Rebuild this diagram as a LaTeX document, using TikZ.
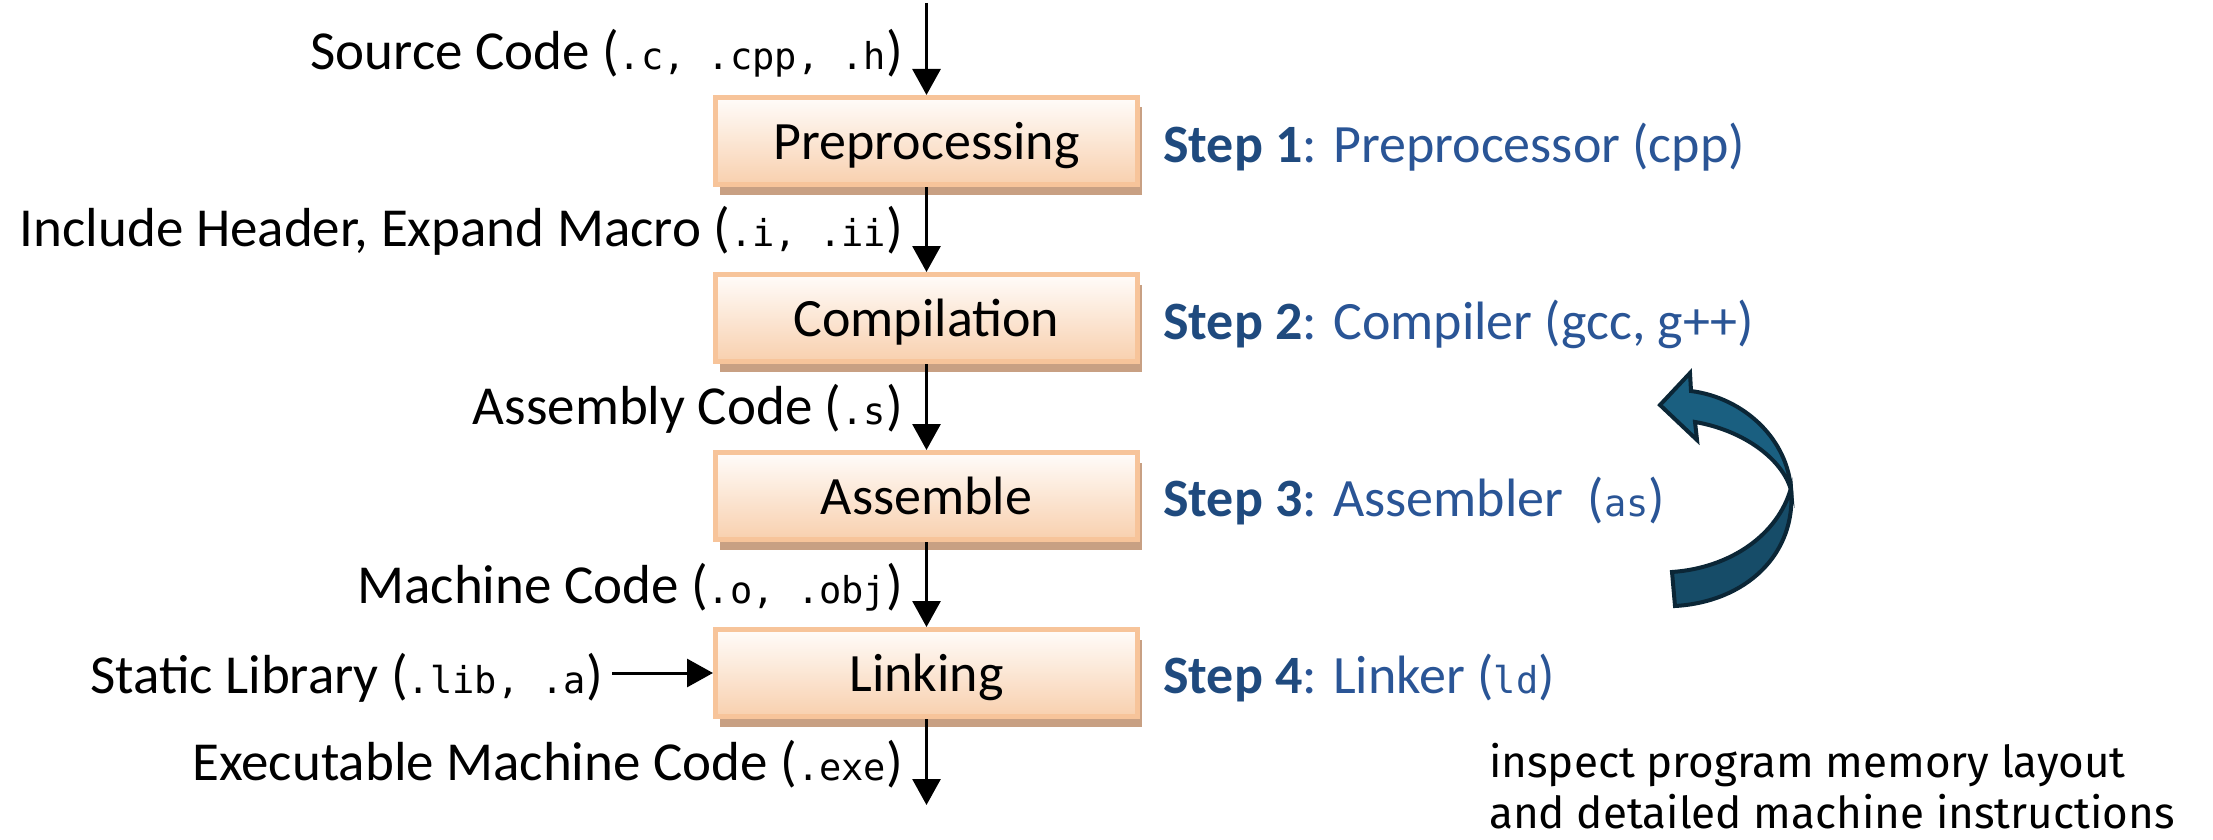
\documentclass[tikz,border=0pt]{standalone}
\usepackage{fontspec}
\setmainfont{Carlito}
\newfontfamily\monof{DejaVu Sans Mono}
\newfontfamily\firaf{Fira Sans}
\usetikzlibrary{arrows.meta,shadows}
\definecolor{boxborder}{HTML}{F7C49A}
\definecolor{boxtop}{HTML}{FFFCFA}
\definecolor{boxbot}{HTML}{F8D0AE}
\definecolor{shadowc}{HTML}{C8A083}
\definecolor{stepbold}{HTML}{1F4A7E}
\definecolor{steptext}{HTML}{2A5596}
\definecolor{cupper}{HTML}{1A5F80}
\definecolor{clower}{HTML}{164C68}
\definecolor{coutline}{HTML}{0B2636}
\newcommand\mc[1]{{\monof\fontsize{37}{40}\selectfont #1}}
\newcommand\stp[1]{\textcolor{stepbold}{\textbf{#1}}}
\begin{document}
\begin{tikzpicture}[x=1pt,y=-1pt,
  lab/.style={font=\fontsize{55}{60}\selectfont, inner sep=0pt, anchor=base east},
  stepl/.style={font=\fontsize{54}{60}\selectfont, inner sep=0pt, anchor=base west, text=steptext},
  procbox/.style={draw=boxborder, line width=5pt, top color=boxtop, bottom color=boxbot,
    minimum width=422pt, minimum height=87pt, inner sep=0pt,
    font=\fontsize{54}{60}\selectfont, text height=45pt, text depth=9pt,
    drop shadow={shadow xshift=4pt, shadow yshift=-10pt, fill=shadowc, opacity=1}},
  arr/.style={line width=3pt, draw=black, -{Triangle[width=28pt,length=26pt]}},
  curveup/.style={fill=cupper, draw=coutline, line width=4pt, line join=miter},
  curvelow/.style={fill=clower, draw=coutline, line width=4pt, line join=miter},
]
\useasboundingbox (0,0) rectangle (2213,840);

% process boxes
\node[procbox] (pre)  at (926.5,141) {Preprocessing};
\node[procbox] (comp) at (926.5,318) {Compilation};
\node[procbox] (asm)  at (926.5,496) {Assemble};
\node[procbox] (link) at (926.5,673) {Linking};

% free ends
\coordinate (start) at (926.5,3);
\coordinate (finish) at (926.5,805);

% labels
\node[lab] (lsrc)    at (903,70)  {Source Code (\mc{.c, .cpp, .h})};
\node[lab] (linc)    at (903,246) {Include Header, Expand Macro (\mc{.i, .ii})};
\node[lab] (lasm)    at (903,424) {Assembly Code (\mc{.s})};
\node[lab] (lmach)   at (903,603) {Machine Code (\mc{.o, .obj})};
\node[lab] (lstatic) at (603,693) {Static Library (\mc{.lib, .a})};
\node[lab] (lexe)    at (903,780) {Executable Machine Code (\mc{.exe})};

% step labels
\node[stepl] (s1) at (1163,162) {\stp{Step 1}: Preprocessor (cpp)};
\node[stepl] (s2) at (1163,339) {\stp{Step 2}: Compiler (gcc, g++)};
\node[stepl] (s3) at (1163,516) {\stp{Step 3}: Assembler\ \ (\mc{as})};
\node[stepl] (s4) at (1163,693) {\stp{Step 4}: Linker (\mc{ld})};

% arrows
\draw[arr] (start) -- (pre);
\draw[arr] (pre) -- (comp);
\draw[arr] (comp) -- (asm);
\draw[arr] (asm) -- (link);
\draw[arr] (link) -- (finish);
\draw[arr] ([xshift=9pt]lstatic.east |- link.west) -- (link.west);

% curved arrow
\draw[curvelow] (1791,488) .. controls (1797,555) and (1745,602) .. (1675,606)
  -- (1672,572) .. controls (1730,568) and (1778,535) .. (1791,488) -- cycle;
\draw[curveup] (1791,490) .. controls (1788,440) and (1745,398) .. (1691,391)
  -- (1690,373) -- (1660,405) -- (1697,440) -- (1695,422)
  .. controls (1742,430) and (1782,458) .. (1791,490) -- cycle;

% note
\node[font=\firaf\fontsize{44}{51}\selectfont, align=left, anchor=base west, inner sep=0pt] (note)
  at (1489,828) {inspect program memory layout\\and detailed machine instructions};
\end{tikzpicture}
\end{document}
